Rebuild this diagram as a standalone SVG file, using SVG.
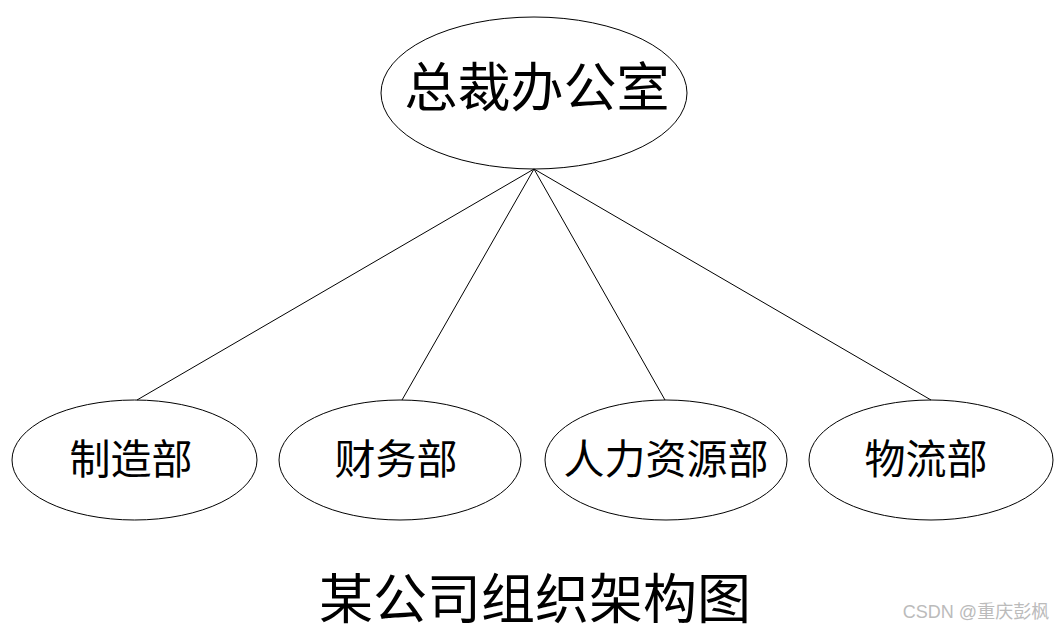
<svg xmlns="http://www.w3.org/2000/svg" width="1060" height="629" viewBox="0 0 1060 629">
<style>
.node ellipse{fill:none;stroke:#000;stroke-width:1}
.conn line{stroke:#000;stroke-width:1}
text{font-family:"Liberation Serif","Noto Sans CJK SC",serif;fill:#000;text-anchor:middle}
.t{font-size:41px}
</style>
<rect width="1060" height="629" fill="#fff"/>
<g id="connectors" class="conn">
<line x1="534" y1="169" x2="137" y2="400"/>
<line x1="534" y1="169" x2="402" y2="400"/>
<line x1="534" y1="169" x2="665" y2="400"/>
<line x1="534" y1="169" x2="931" y2="400"/>
</g>
<g id="n0" class="node"><ellipse cx="534" cy="93" rx="153" ry="76"/><text x="537" y="107" font-size="53">总裁办公室</text></g>
<g id="n1" class="node"><ellipse cx="134.5" cy="460" rx="122.5" ry="60"/><text class="t" x="131" y="474">制造部</text></g>
<g id="n2" class="node"><ellipse cx="400" cy="460" rx="121" ry="60"/><text class="t" x="396" y="474">财务部</text></g>
<g id="n3" class="node"><ellipse cx="666" cy="460" rx="121" ry="60"/><text class="t" x="666" y="474">人力资源部</text></g>
<g id="n4" class="node"><ellipse cx="931" cy="460" rx="122" ry="60"/><text class="t" x="926" y="474">物流部</text></g>
<text x="535" y="619" font-size="54">某公司组织架构图</text>
<text x="976" y="618" font-size="18" style="fill:#bbb;font-family:'Liberation Sans','Noto Sans CJK SC',sans-serif">CSDN @重庆彭枫</text>
</svg>
